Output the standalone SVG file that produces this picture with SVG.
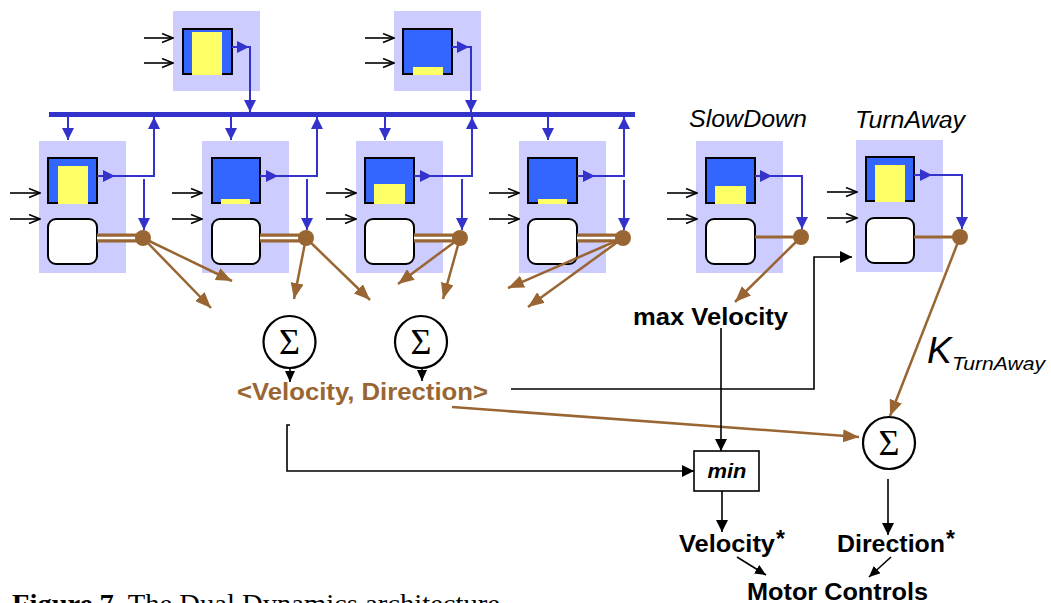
<svg xmlns="http://www.w3.org/2000/svg" width="1051" height="603" viewBox="0 0 1051 603">
  <defs>
    <marker id="mBlue" viewBox="0 0 12 12" refX="12" refY="6" markerWidth="12" markerHeight="12" orient="auto" markerUnits="userSpaceOnUse">
      <path d="M0,0 L12,6 L0,12 z" fill="#3333cc"/>
    </marker>
    <marker id="mBrown" viewBox="0 0 16 13" refX="16" refY="6.5" markerWidth="16" markerHeight="13" orient="auto" markerUnits="userSpaceOnUse">
      <path d="M0,0 L16,6.5 L0,13 z" fill="#996633"/>
    </marker>
    <marker id="mBlack" viewBox="0 0 12 12" refX="12" refY="6" markerWidth="12" markerHeight="12" orient="auto" markerUnits="userSpaceOnUse">
      <path d="M0,0 L12,6 L0,12 z" fill="#000"/>
    </marker>
    <marker id="mSmall" viewBox="0 0 11 10" refX="11" refY="5" markerWidth="11" markerHeight="10" orient="auto" markerUnits="userSpaceOnUse">
      <path d="M0,0 L11,5 L0,10 z" fill="#000"/>
    </marker>
    <marker id="mOpen" viewBox="-1 -1 13 11" refX="11" refY="4.5" markerWidth="13" markerHeight="11" orient="auto" markerUnits="userSpaceOnUse">
      <path d="M0,0 L11,4.5 L0,9" fill="none" stroke="#000" stroke-width="1.5"/>
    </marker>
  </defs>
  <style>
    .lav { fill: #ccccff; }
    .blu { fill: #3366ff; stroke: #000; stroke-width: 2; }
    .yel { fill: #ffff66; }
    .wht { fill: #fff; stroke: #000; stroke-width: 2; }
    .dot { fill: #996633; }
    .inp { stroke: #000; stroke-width: 1.6; fill: none; marker-end: url(#mOpen); }
    .bla { stroke: #3333cc; stroke-width: 2; fill: none; marker-end: url(#mBlue); }
    .br2 { stroke: #996633; stroke-width: 9; fill: none; }
    .brw { stroke: #fff; stroke-width: 2.5; fill: none; }
    .br1 { stroke: #996633; stroke-width: 3; fill: none; }
    .bra { stroke: #996633; stroke-width: 2.5; fill: none; marker-end: url(#mBrown); }
    .ka { stroke: #000; stroke-width: 1.6; fill: none; marker-end: url(#mBlack); }
    .ks { stroke: #000; stroke-width: 1.6; fill: none; marker-end: url(#mSmall); }
    .sig { fill: #fff; stroke: #000; stroke-width: 2.2; }
    .sigt { font-family: "Liberation Serif", serif; font-size: 36px; text-anchor: middle; fill: #000; }
    .lbl { font-family: "Liberation Sans", Arial, sans-serif; font-weight: bold; font-size: 23px; fill: #000; }
    .ital { font-family: "Liberation Sans", Arial, sans-serif; font-style: italic; font-size: 23px; fill: #000; }
  </style>

  <rect width="1051" height="603" fill="#fff"/>

  <!-- top behaviour modules -->
  <g id="top1">
    <rect class="lav" x="173" y="11" width="87" height="80"/>
    <rect class="blu" x="183" y="29" width="49" height="45"/>
    <rect class="yel" x="192" y="32" width="30" height="43"/>
  </g>
  <g id="top2">
    <rect class="lav" x="394" y="11" width="87" height="80"/>
    <rect class="blu" x="403" y="29" width="49" height="45"/>
    <rect class="yel" x="413" y="67" width="30" height="8"/>
  </g>

  <!-- shared bus -->
  <g id="bus">
    <line x1="49" y1="114.5" x2="635" y2="114.5" stroke="#3333cc" stroke-width="5"/>
  </g>

  <!-- lower behaviour modules -->
  <g id="mod1">
    <rect class="lav" x="39" y="141" width="87" height="132"/>
    <rect class="blu" x="48" y="158" width="49" height="45"/>
    <rect class="yel" x="58" y="166" width="30" height="38"/>
    <rect class="wht" x="48" y="219" width="49" height="45" rx="8"/>
  </g>
  <g id="mod2">
    <rect class="lav" x="202" y="141" width="87" height="132"/>
    <rect class="blu" x="212" y="158" width="48" height="45"/>
    <rect class="yel" x="221" y="199" width="29" height="5"/>
    <rect class="wht" x="212" y="219" width="48" height="45" rx="8"/>
  </g>
  <g id="mod3">
    <rect class="lav" x="356" y="141" width="87" height="132"/>
    <rect class="blu" x="365" y="158" width="49" height="45"/>
    <rect class="yel" x="374" y="184" width="31" height="20"/>
    <rect class="wht" x="365" y="219" width="49" height="45" rx="8"/>
  </g>
  <g id="mod4">
    <rect class="lav" x="519" y="141" width="87" height="132"/>
    <rect class="blu" x="528" y="158" width="49" height="45"/>
    <rect class="yel" x="538" y="199" width="29" height="5"/>
    <rect class="wht" x="528" y="219" width="49" height="45" rx="8"/>
  </g>
  <g id="slowdown">
    <text class="ital" x="748" y="127" text-anchor="middle" textLength="118" lengthAdjust="spacingAndGlyphs">SlowDown</text>
    <rect class="lav" x="696" y="141" width="87" height="132"/>
    <rect class="blu" x="706" y="158" width="49" height="45"/>
    <rect class="yel" x="715" y="186" width="31" height="18"/>
    <rect class="wht" x="706" y="219" width="49" height="45" rx="8"/>
  </g>
  <g id="turnaway">
    <text class="ital" x="910" y="128" text-anchor="middle" textLength="110" lengthAdjust="spacingAndGlyphs">TurnAway</text>
    <rect class="lav" x="856" y="140" width="87" height="132"/>
    <rect class="blu" x="866" y="157" width="48" height="44"/>
    <rect class="yel" x="875" y="165" width="30" height="37"/>
    <rect class="wht" x="866" y="218" width="48" height="45" rx="8"/>
  </g>

  <!-- summation and combination nodes -->
  <g id="sum1">
    <circle class="sig" cx="289.5" cy="342" r="26"/>
    <text class="sigt" x="289.5" y="354">Σ</text>
  </g>
  <g id="sum2">
    <circle class="sig" cx="421" cy="342" r="26"/>
    <text class="sigt" x="421" y="354">Σ</text>
  </g>
  <g id="sum3">
    <circle class="sig" cx="889" cy="443" r="26"/>
    <text class="sigt" x="889" y="455">Σ</text>
  </g>
  <g id="minbox">
    <rect x="694" y="451" width="65" height="40" fill="#fff" stroke="#000" stroke-width="1.6"/>
    <text x="727" y="478" text-anchor="middle" font-family="'Liberation Sans', Arial, sans-serif" font-weight="bold" font-style="italic" font-size="20" textLength="39" lengthAdjust="spacingAndGlyphs">min</text>
  </g>

  <!-- labels -->
  <g id="labels">
    <text class="lbl" x="633" y="325" textLength="155" lengthAdjust="spacingAndGlyphs">max Velocity</text>
    <text class="lbl" x="237" y="400" style="fill:#996633" textLength="251" lengthAdjust="spacingAndGlyphs">&lt;Velocity, Direction&gt;</text>
    <text class="lbl" x="679" y="552" textLength="96" lengthAdjust="spacingAndGlyphs">Velocity</text>
    <text class="lbl" x="776" y="547" font-size="23">*</text>
    <text class="lbl" x="837" y="552" textLength="108" lengthAdjust="spacingAndGlyphs">Direction</text>
    <text class="lbl" x="946" y="547" font-size="23">*</text>
    <text class="lbl" x="747" y="600" textLength="181" lengthAdjust="spacingAndGlyphs">Motor Controls</text>
    <text x="927" y="363" font-family="'Liberation Sans', Arial, sans-serif" font-style="italic" font-size="37">K</text>
    <text x="952" y="370" font-family="'Liberation Sans', Arial, sans-serif" font-style="italic" font-size="19" textLength="93" lengthAdjust="spacingAndGlyphs">TurnAway</text>
    <text x="12" y="613" font-family="'Liberation Serif', 'Times New Roman', serif" font-size="27" textLength="488" lengthAdjust="spacingAndGlyphs"><tspan font-weight="bold">Figure 7.</tspan> The Dual Dynamics architecture</text>
  </g>

  <!-- connectors -->
  <g id="connectors">
    <!-- sensor inputs -->
    <path class="inp" d="M144,38 H173"/>
    <path class="inp" d="M144,63 H173"/>
    <path class="inp" d="M365,38 H394"/>
    <path class="inp" d="M365,63 H394"/>
    <path class="inp" d="M10,193 H40"/>
    <path class="inp" d="M10,219 H40"/>
    <path class="inp" d="M172,193 H202"/>
    <path class="inp" d="M172,219 H202"/>
    <path class="inp" d="M326,193 H356"/>
    <path class="inp" d="M326,219 H356"/>
    <path class="inp" d="M489,193 H519"/>
    <path class="inp" d="M489,219 H519"/>
    <path class="inp" d="M667,193 H697"/>
    <path class="inp" d="M667,219 H697"/>
    <path class="inp" d="M827,192 H857"/>
    <path class="inp" d="M827,218 H857"/>

    <!-- top modules to bus -->
    <path class="bla" d="M232,47 H249"/>
    <path class="bla" d="M249,47 H250 V112"/>
    <path class="bla" d="M452,47 H469"/>
    <path class="bla" d="M469,47 H471 V112"/>

    <!-- bus to lower modules -->
    <path class="bla" d="M68,117 V140"/>
    <path class="bla" d="M231,117 V140"/>
    <path class="bla" d="M385,117 V140"/>
    <path class="bla" d="M548,117 V140"/>

    <!-- module outputs back to bus and into activation dots -->
    <path class="bla" d="M97,176 H115"/>
    <path class="bla" d="M114,176 H154 V117"/>
    <path class="bla" d="M144,179 V230"/>
    <path class="bla" d="M260,176 H278"/>
    <path class="bla" d="M277,176 H317 V117"/>
    <path class="bla" d="M307,179 V230"/>
    <path class="bla" d="M414,176 H432"/>
    <path class="bla" d="M431,176 H472 V117"/>
    <path class="bla" d="M462,179 V230"/>
    <path class="bla" d="M577,176 H595"/>
    <path class="bla" d="M594,176 H624 V117"/>
    <path class="bla" d="M624,180 V230"/>
    <path class="bla" d="M755,176 H772"/>
    <path class="bla" d="M771,176 H802 V229"/>
    <path class="bla" d="M914,175 H932"/>
    <path class="bla" d="M931,175 H962 V229"/>

    <!-- double brown links -->
    <path class="br2" d="M97,238 H140"/>
    <path class="brw" d="M97,238 H136"/>
    <path class="br2" d="M260,238 H303"/>
    <path class="brw" d="M260,238 H299"/>
    <path class="br2" d="M414,238 H457"/>
    <path class="brw" d="M414,238 H453"/>
    <path class="br2" d="M577,238 H620"/>
    <path class="brw" d="M577,238 H616"/>
    <path class="br1" d="M755,237 H798"/>
    <path class="br1" d="M914,237 H957"/>

    <!-- brown outputs -->
    <path class="bra" d="M143,238 L232,281"/>
    <path class="bra" d="M143,238 L211,308"/>
    <path class="bra" d="M306,238 L294,299"/>
    <path class="bra" d="M306,238 L370,300"/>
    <path class="bra" d="M460,238 L398,284"/>
    <path class="bra" d="M460,238 L443,299"/>
    <path class="bra" d="M623,238 L508,288"/>
    <path class="bra" d="M623,238 L528,307"/>
    <path class="bra" d="M801,237 L735,302"/>
    <path class="bra" d="M960,237 L890,416"/>
    <path class="bra" d="M452,407 L859,437"/>

    <!-- black signal paths -->
    <path class="ks" d="M290,368 V382"/>
    <path class="ks" d="M422,368 V381"/>
    <path class="ka" d="M721,328 V451"/>
    <path class="ka" d="M511,389 H814 V257 H852"/>
    <path class="ka" d="M290,425 H287 V471 H694"/>
    <path class="ka" d="M722,491 V532"/>
    <path class="ka" d="M888,479 V535"/>
    <path class="ks" d="M737,557 L766,575"/>
    <path class="ks" d="M891,557 L869,577"/>
  </g>

  <!-- activation dots drawn over the links -->
  <g id="dots">
    <circle class="dot" cx="143" cy="238" r="8"/>
    <circle class="dot" cx="306" cy="238" r="8"/>
    <circle class="dot" cx="460" cy="238" r="8"/>
    <circle class="dot" cx="623" cy="238" r="8"/>
    <circle class="dot" cx="801" cy="237" r="8"/>
    <circle class="dot" cx="960" cy="237" r="8"/>
  </g>
</svg>
